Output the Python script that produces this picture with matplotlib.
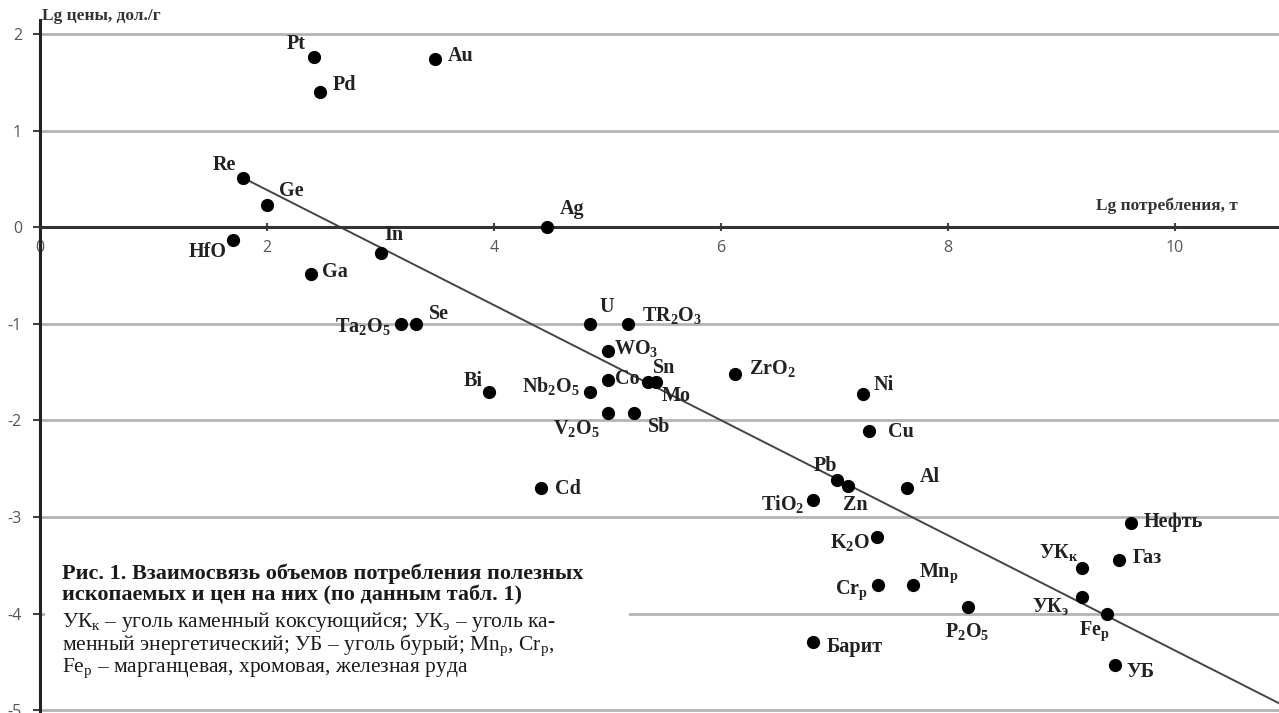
import numpy as np
import matplotlib.pyplot as plt
from matplotlib.patches import Rectangle

plt.rcParams['font.family'] = ['Liberation Serif', 'DejaVu Serif']
plt.rcParams['mathtext.fontset'] = 'custom'
plt.rcParams['mathtext.rm'] = 'Liberation Serif'
plt.rcParams['mathtext.bf'] = 'Liberation Serif:bold'
plt.rcParams['mathtext.it'] = 'Liberation Serif:italic'

# данные: lg потребления (т) и lg цены (дол./г)
names = ['Pt', 'Au', 'Pd', 'Re', 'Ge', 'HfO', 'In', 'Ga', 'Ag',
         r'Ta$_\mathbf{2}$O$_\mathbf{5}$', 'Se', 'U', r'TR$_\mathbf{2}$O$_\mathbf{3}$',
         r'WO$_\mathbf{3}$', 'Co', 'Sn', 'Mo', 'Bi', r'Nb$_\mathbf{2}$O$_\mathbf{5}$',
         r'V$_\mathbf{2}$O$_\mathbf{5}$', 'Sb', r'ZrO$_\mathbf{2}$', 'Cd', 'Ni', 'Cu',
         'Pb', 'Zn', 'Al', r'TiO$_\mathbf{2}$', r'K$_\mathbf{2}$O', r'Cr$_\mathbf{р}$',
         r'Mn$_\mathbf{р}$', r'P$_\mathbf{2}$O$_\mathbf{5}$', 'Барит', 'Нефть', 'Газ',
         r'УК$_\mathbf{к}$', r'УК$_\mathbf{э}$', r'Fe$_\mathbf{р}$', 'УБ']
lg_consumption = [2.41, 3.48, 2.47, 1.79, 2.00, 1.70, 3.00, 2.39, 4.47,
                  3.18, 3.31, 4.85, 5.18,
                  5.00, 5.00, 5.36, 5.43, 3.96, 4.85,
                  5.00, 5.23, 6.12, 4.41, 7.25, 7.30,
                  7.02, 7.12, 7.64, 6.81, 7.37, 7.38,
                  7.69, 8.18, 6.81, 9.61, 9.51,
                  9.18, 9.18, 9.40, 9.47]
lg_price = [1.76, 1.74, 1.40, 0.51, 0.23, -0.13, -0.27, -0.48, 0.00,
            -1.00, -1.00, -1.00, -1.00,
            -1.28, -1.58, -1.60, -1.60, -1.71, -1.71,
            -1.92, -1.92, -1.52, -2.70, -1.73, -2.11,
            -2.62, -2.68, -2.70, -2.82, -3.21, -3.70,
            -3.70, -3.93, -4.30, -3.06, -3.45,
            -3.53, -3.83, -4.00, -4.53]

# линия тренда
trend_slope = -0.596
trend_intercept = 1.577
trend_x = [1.79, 10.92]

# смещения подписей, пиксели
label_offsets = [(-17, 13), (26, 3), (24, 7), (-19, 13), (24, 14), (-25, -12), (13, 18), (24, 2), (25, 18),
                 (-38, -3), (23, 10), (16, 17), (44, 8),
                 (29, 2), (20, 1), (16, 14), (20, -14), (-16, 11), (-40, 6),
                 (-31, -16), (26, -14), (38, 5), (27, -1), (21, 9), (32, -1),
                 (-11, 14), (7, -19), (23, 11), (-30, -4), (-27, -5), (-26, -6),
                 (26, 11), (-1, -25), (42, -5), (43, 1), (28, 2),
                 (-23, 16), (-31, -9), (-13, -18), (26, -7)]

fig = plt.figure(figsize=(12.79, 7.13), dpi=100)
ax = fig.add_axes([40 / 1279, 0, 1 - 40 / 1279, 693 / 713])
ax.set_xlim(0, 10.916)
ax.set_ylim(-5.03, 2.145)

for y in [2, 1, -1, -2, -3, -4, -5]:
    ax.axhline(y, color='#b4b4b4', lw=2, zorder=1)

ax.spines['top'].set_visible(False)
ax.spines['right'].set_visible(False)
ax.spines['left'].set_linewidth(2.2)
ax.spines['left'].set_color('#222222')
ax.spines['bottom'].set_position(('data', 0))
ax.spines['bottom'].set_linewidth(2.2)
ax.spines['bottom'].set_color('#333333')

ax.set_xticks([0, 2, 4, 6, 8, 10])
ax.set_yticks([2, 1, 0, -1, -2, -3, -4, -5])
ax.set_yticklabels(['2', '1', '0', '-1', '-2', '-3', '-4', '-5'])
ax.tick_params(axis='x', direction='inout', length=6, width=1.5, color='#444444',
               labelsize=11.5, labelcolor='#555555', pad=6)
ax.tick_params(axis='y', direction='out', length=5, width=1.5, color='#444444',
               labelsize=11.5, labelcolor='#555555', pad=8)
for lbl in ax.get_xticklabels() + ax.get_yticklabels():
    lbl.set_family('Open Sans')

tx = np.array(trend_x)
ax.plot(tx, trend_intercept + trend_slope * tx, color='#444444', lw=1.4, zorder=2)

ax.plot(lg_consumption, lg_price, 'o', color='black', ms=8.5, zorder=3, clip_on=False)
for name, x, y, off in zip(names, lg_consumption, lg_price, label_offsets):
    ax.annotate(name, (x, y), xytext=off, textcoords='offset pixels',
                ha='center', va='center', fontsize=14.5, fontweight='bold',
                color='#222222', zorder=4)

ax.text(0.02, 2.19, 'Lg цены, дол./г', fontsize=12.5, fontweight='bold',
        color='#333333', va='center', ha='left', clip_on=False)
ax.text(9.93, 0.22, 'Lg потребления, т', fontsize=12.5, fontweight='bold',
        color='#333333', va='center', ha='center')

# подпись рисунка
ax.add_patch(Rectangle((0.04, -4.85), 5.15, 1.3, facecolor='white',
                       edgecolor='none', zorder=5))
caption = [
    ('Рис. 1. Взаимосвязь объемов потребления полезных', 'bold', 16, -3.59),
    ('ископаемых и цен на них (по данным табл. 1)', 'bold', 16, -3.81),
    (r'УК$_\mathrm{к}$ – уголь каменный коксующийся; УК$_\mathrm{э}$ – уголь ка-', 'normal', 15.5, -4.09),
    (r'менный энергетический; УБ – уголь бурый; Mn$_\mathrm{р}$, Cr$_\mathrm{р}$,', 'normal', 15.5, -4.33),
    (r'Fe$_\mathrm{р}$ – марганцевая, хромовая, железная руда', 'normal', 15.5, -4.57),
]
for txt, weight, size, y in caption:
    ax.text(0.19, y, txt, fontsize=size, fontweight=weight, color='#1a1a1a',
            va='center', ha='left', zorder=6)

fig.savefig('out.png', dpi=100)
